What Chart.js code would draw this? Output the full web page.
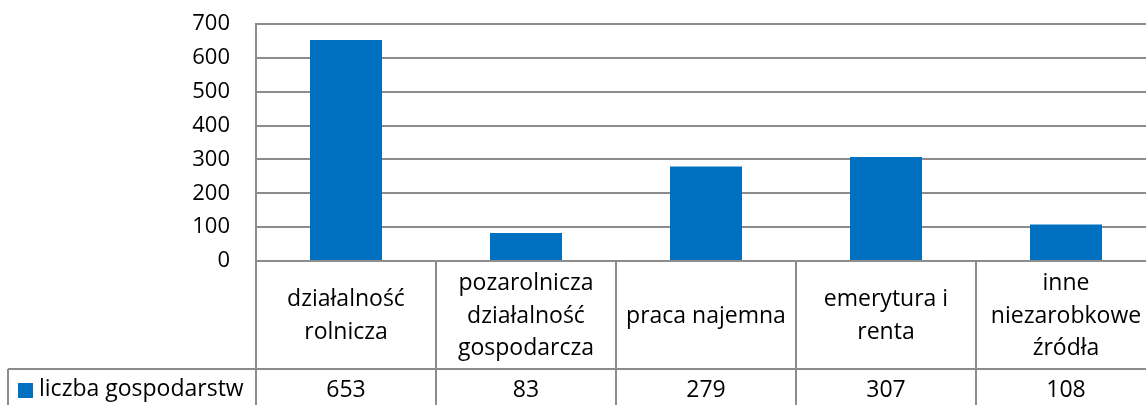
<!DOCTYPE html>
<html>
<head>
<meta charset="utf-8">
<script src="https://cdn.jsdelivr.net/npm/chart.js@4"></script>
<style>
  html, body { margin: 0; padding: 0; background: #fff; overflow: hidden; }
  #wrap { position: relative; width: 1156px; height: 405px; }
</style>
</head>
<body>
<div id="wrap"><canvas id="chart"></canvas></div>
<script>
const categories = [
    ['działalność', 'rolnicza'],
    ['pozarolnicza', 'działalność', 'gospodarcza'],
    ['praca najemna'],
    ['emerytura i', 'renta'],
    ['inne', 'niezarobkowe', 'źródła']
];
const seriesName = 'liczba gospodarstw';
const values = [653, 83, 279, 307, 108];
const yTicks = [0, 100, 200, 300, 400, 500, 600, 700];

const FONT = '"Open Sans", sans-serif';
const lineColor = '#8c8c8c';
const barColor = '#0070c0';

// draws the data table under the plot, columns follow the x scale
const dataTable = {
    id: 'dataTable',
    afterDraw(chart) {
        const ctx = chart.ctx;
        const x = chart.scales.x;
        const area = chart.chartArea;
        const h = chart.height;
        const colW = x.getPixelForValue(1) - x.getPixelForValue(0);
        const rowY = 369;

        ctx.save();
        ctx.strokeStyle = lineColor;
        ctx.lineWidth = 2;
        ctx.beginPath();
        for (let i = 0; i <= values.length; i++) {
            const bx = Math.round(x.getPixelForValue(i) - colW / 2);
            ctx.moveTo(bx, area.bottom);
            ctx.lineTo(bx, h);
        }
        ctx.moveTo(8, rowY);
        ctx.lineTo(chart.width, rowY);
        ctx.moveTo(8, rowY);
        ctx.lineTo(8, h);
        ctx.stroke();

        ctx.fillStyle = '#000';
        ctx.font = '23px ' + FONT;
        ctx.textAlign = 'center';
        ctx.textBaseline = 'middle';
        const headMid = (area.bottom + rowY) / 2 + 1;
        const lh = 32.5;
        categories.forEach((lines, i) => {
            const cx = x.getPixelForValue(i);
            const y0 = headMid - (lines.length - 1) * lh / 2;
            lines.forEach((t, j) => ctx.fillText(t, cx, y0 + j * lh));
            ctx.fillText(String(values[i]), cx, 390);
        });

        ctx.fillStyle = barColor;
        ctx.fillRect(18, 383, 15, 15);
        ctx.fillStyle = '#000';
        ctx.textAlign = 'left';
        ctx.fillText(seriesName, 39, 389);
        ctx.restore();
    }
};

new Chart(document.getElementById('chart'), {
    type: 'bar',
    data: {
        labels: categories,
        datasets: [{
            label: seriesName,
            data: values,
            backgroundColor: barColor,
            borderWidth: 0,
            categoryPercentage: 1,
            barPercentage: 0.4
        }]
    },
    options: {
        responsive: true,
        maintainAspectRatio: false,
        animation: false,
        layout: { padding: { top: 24, bottom: 144, left: 0, right: 0 } },
        plugins: { legend: { display: false }, tooltip: { enabled: false } },
        scales: {
            x: {
                display: false,
                afterFit(s) { s.height = 0; }
            },
            y: {
                min: 0,
                max: 700,
                afterBuildTicks(s) { s.ticks = yTicks.map(v => ({ value: v })); },
                afterFit(s) { s.width = 256; },
                grid: { color: lineColor, lineWidth: 2, drawTicks: true, tickLength: 26, tickColor: 'transparent' },
                border: { color: lineColor, width: 2 },
                ticks: {
                    padding: 0,
                    color: '#000',
                    font: { family: FONT, size: 22 }
                }
            }
        }
    },
    plugins: [dataTable]
});
</script>
</body>
</html>
